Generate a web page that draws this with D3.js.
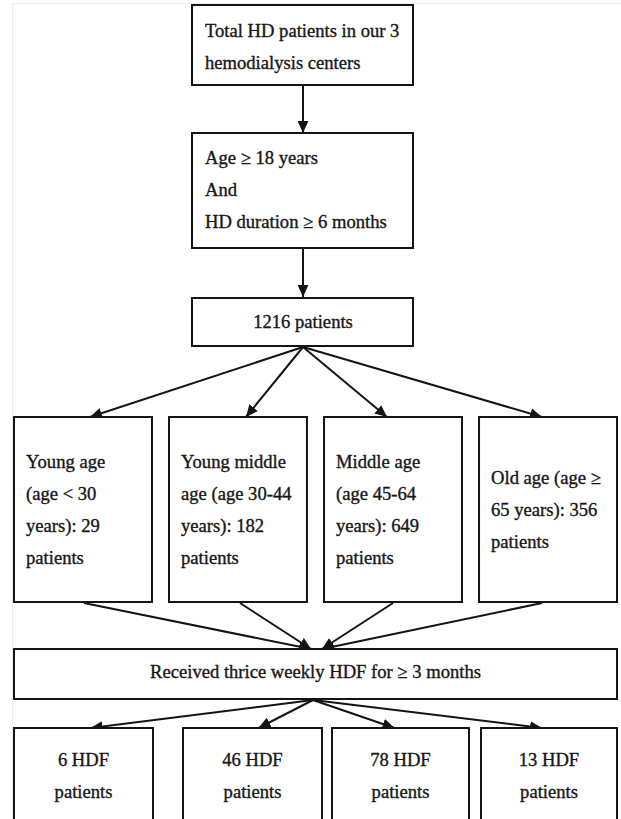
<!DOCTYPE html>
<html>
<head>
<meta charset="utf-8">
<script src="https://cdn.jsdelivr.net/npm/d3@7/dist/d3.min.js"></script>
<style>
  html, body { margin: 0; padding: 0; background: #fff; }
  svg { display: block; }
  text { font-family: "Liberation Serif", "DejaVu Serif", serif; fill: #161616; stroke: #161616; stroke-width: 0.35px; }
</style>
</head>
<body>
<div id="chart"></div>
<script>
// ---------------- data ----------------
const screeningLines = ["Total HD patients in our 3", "hemodialysis centers"];
const criteriaLines = ["Age \u2265 18 years", "And", "HD duration \u2265 6 months"];
const totalPatients = 1216;
const ageGroups = ["Young age", "Young middle age", "Middle age", "Old age"];
const ageCounts = [29, 182, 649, 356];
const ageLabelLines = [
  ["Young age", "(age < 30", `years): ${ageCounts[0]}`, "patients"],
  ["Young middle", "age (age 30-44", `years): ${ageCounts[1]}`, "patients"],
  ["Middle age", "(age 45-64", `years): ${ageCounts[2]}`, "patients"],
  ["Old age (age \u2265", `65 years): ${ageCounts[3]}`, "patients"]
];
const hdfCriterion = "Received thrice weekly HDF for \u2265 3 months";
const hdfCounts = [6, 46, 78, 13];

// ---------------- layout ----------------
const W = 621, H = 819;
const FS = 18.6;
const LH = 32;
const ink = "#141414";

const svg = d3.select("#chart").append("svg").attr("width", W).attr("height", H);

// faint frame of the scanned figure
svg.append("line").attr("x1", 12.5).attr("x2", 12.5).attr("y1", 3).attr("y2", H).attr("stroke", "#ededed");
svg.append("line").attr("x1", 12).attr("x2", W).attr("y1", 3.5).attr("y2", 3.5).attr("stroke", "#ededed");

const defs = svg.append("defs");
defs.append("marker").attr("id", "arr")
  .attr("viewBox", "0 0 10 10").attr("refX", 10).attr("refY", 5)
  .attr("markerWidth", 12).attr("markerHeight", 12)
  .attr("markerUnits", "userSpaceOnUse").attr("orient", "auto")
  .append("path").attr("d", "M0,0.5 L10,5 L0,9.5 Z").attr("fill", ink);

function box(x, y, w, h) {
  svg.append("rect").attr("x", x).attr("y", y).attr("width", w).attr("height", h)
    .attr("fill", "#fff").attr("stroke", ink).attr("stroke-width", 2);
}
function arrow(x1, y1, x2, y2) {
  svg.append("line").attr("x1", x1).attr("y1", y1).attr("x2", x2).attr("y2", y2)
    .attr("stroke", ink).attr("stroke-width", 2).attr("marker-end", "url(#arr)");
}
function lines(arr, x, y0, anchor) {
  const t = svg.append("text").attr("font-size", FS).attr("text-anchor", anchor || "start");
  arr.forEach((s, i) => t.append("tspan").attr("x", x).attr("y", y0 + i * LH).text(s));
  return t;
}

// column scale for the age-group row
const ageX = d3.scaleBand().domain(ageGroups).range([14, 617]).paddingInner(0.11);
// column positions of the HDF row
const hdfX = d3.scaleOrdinal().domain(d3.range(hdfCounts.length)).range([14, 183, 332, 481]);
const hdfW = d3.scaleOrdinal().domain(d3.range(hdfCounts.length)).range([139, 139, 137, 136]);

const cx = 303;

// arrows (drawn first so boxes sit on top)
arrow(cx, 86, cx, 133);
arrow(cx, 249, cx, 297);
const ageTipOffset = [7, 8, -6, -6];
ageGroups.forEach((g, i) => {
  const c = ageX(g) + ageX.bandwidth() / 2;
  arrow(cx, 347, c + ageTipOffset[i], 417);
});
const ageSrcOffset = [1, 2, 0, -6];
const hdfTipX = [311, 311, 322, 322];
ageGroups.forEach((g, i) => {
  const c = ageX(g) + ageX.bandwidth() / 2;
  arrow(c + ageSrcOffset[i], 603, hdfTipX[i], 649);
});
const hdfTipOffset = [7, 6, -6, -7];
hdfCounts.forEach((v, i) => {
  const c = hdfX(i) + hdfW(i) / 2;
  arrow(313, 700, c + hdfTipOffset[i], 728);
});

// boxes
box(192, 5, 221, 80);
lines(screeningLines, 205, 37);

box(192, 133, 221, 115);
lines(criteriaLines, 205, 164);

box(192, 298, 221, 48);
lines([`${totalPatients} patients`], cx, 328, "middle");

ageGroups.forEach((g, i) => {
  const x = ageX(g), w = ageX.bandwidth();
  box(x, 417, w, 185);
  const n = ageLabelLines[i].length;
  const y0 = 509.5 - (n - 1) * LH / 2 + 6;
  lines(ageLabelLines[i], x + 12, y0);
});

box(14, 649, 603, 50);
lines([hdfCriterion], 315.5, 678, "middle");

hdfCounts.forEach((v, i) => {
  const x = hdfX(i), w = hdfW(i);
  box(x, 728, w, 120);
  lines([`${v} HDF`, "patients"], x + w / 2, 766, "middle");
});
</script>
</body>
</html>
